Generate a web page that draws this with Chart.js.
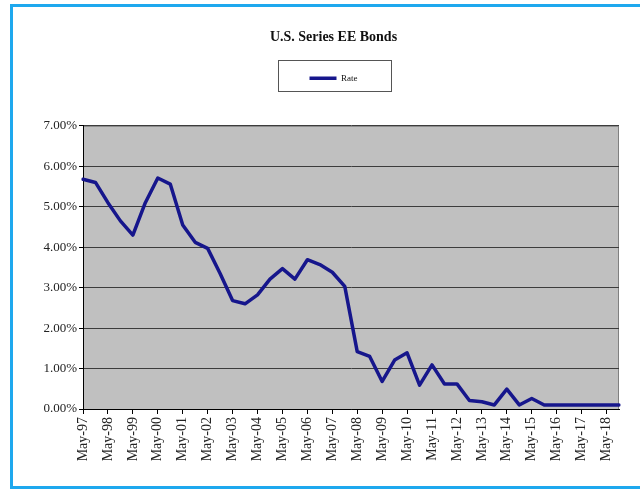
<!DOCTYPE html>
<html>
<head>
<meta charset="utf-8">
<title>U.S. Series EE Bonds</title>
<script src="https://cdn.jsdelivr.net/npm/chart.js@4.4.1/dist/chart.umd.min.js"></script>
<style>
  html, body { margin: 0; padding: 0; background: #fff; }
  #wrap { position: relative; width: 640px; height: 490px; overflow: hidden; }
  #frame {
    position: absolute; left: 10px; top: 4px; width: 700px; height: 485px;
    box-sizing: border-box;
    border: 3px solid #1ea8ee; border-right: none;
  }
  #rateChart { position: absolute; left: 0; top: 0; }
</style>
</head>
<body>
<div id="wrap">
  <div id="frame"></div>
  <canvas id="rateChart" width="640" height="490"></canvas>
</div>
<script>
// semiannual rate announcements, May-97 .. Nov-18
const periods = [
  'May-97', 'Nov-97', 'May-98', 'Nov-98', 'May-99', 'Nov-99',
  'May-00', 'Nov-00', 'May-01', 'Nov-01', 'May-02', 'Nov-02',
  'May-03', 'Nov-03', 'May-04', 'Nov-04', 'May-05', 'Nov-05',
  'May-06', 'Nov-06', 'May-07', 'Nov-07', 'May-08', 'Nov-08',
  'May-09', 'Nov-09', 'May-10', 'Nov-10', 'May-11', 'Nov-11',
  'May-12', 'Nov-12', 'May-13', 'Nov-13', 'May-14', 'Nov-14',
  'May-15', 'Nov-15', 'May-16', 'Nov-16', 'May-17', 'Nov-17',
  'May-18', 'Nov-18'
];

// rate in percent
const rate = [
  5.68, 5.60, 5.10, 4.65, 4.30, 5.10,
  5.71, 5.56, 4.55, 4.12, 3.97, 3.35,
  2.68, 2.60, 2.82, 3.21, 3.47, 3.21,
  3.69, 3.57, 3.38, 3.03, 1.42, 1.30,
  0.68, 1.21, 1.39, 0.59, 1.09, 0.62,
  0.62, 0.21, 0.18, 0.10, 0.49, 0.10,
  0.26, 0.10, 0.10, 0.10, 0.10, 0.10,
  0.10, 0.10
];

const seriesName = 'Rate';
const yTicks = [0, 1, 2, 3, 4, 5, 6, 7];

const serif = '"Liberation Serif", "Times New Roman", serif';
Chart.defaults.font.family = serif;

// gray plot area like the old Excel charts
const plotBackground = {
  id: 'plotBackground',
  beforeDraw(chart) {
    const { ctx, chartArea: a } = chart;
    ctx.save();
    ctx.fillStyle = '#c0c0c0';
    ctx.fillRect(a.left, a.top, a.right - a.left, a.bottom - a.top);
    ctx.strokeStyle = '#808080';
    ctx.lineWidth = 1;
    ctx.strokeRect(a.left + 0.5, a.top + 0.5, a.right - a.left - 1, a.bottom - a.top);
    ctx.restore();
  }
};

// title + legend sit a bit right of the canvas centre, with room under the legend and a box round it
const headerCentre = 333.5;
const legendBox = {
  id: 'legendBox',
  beforeLayout(chart) {
    const legend = chart.legend;
    if (!legend || legend._gapAdded) return;
    const fit = legend.fit;
    legend.fit = function () {
      fit.call(this);
      this.height += 33;
    };
    legend._gapAdded = true;
  },
  afterLayout(chart) {
    [chart.titleBlock, chart.legend].forEach(box => {
      if (!box) return;
      const dx = headerCentre - (box.left + box.right) / 2;
      box.left += dx;
      box.right += dx;
    });
  },
  afterDraw(chart) {
    const hb = chart.legend && chart.legend.legendHitBoxes[0];
    if (!hb) return;
    const ctx = chart.ctx;
    const cx = hb.left + hb.width / 2;
    ctx.save();
    ctx.strokeStyle = '#555';
    ctx.lineWidth = 1;
    ctx.strokeRect(Math.round(cx - 56) + 0.5, Math.round(hb.top - 14) + 0.5, 113, 31);
    ctx.restore();
  }
};

new Chart(document.getElementById('rateChart'), {
  type: 'line',
  data: {
    labels: periods,
    datasets: [{
      label: seriesName,
      data: rate,
      borderColor: '#16168c',
      backgroundColor: '#16168c',
      borderWidth: 3.5,
      borderJoinStyle: 'round',
      borderCapStyle: 'round',
      pointRadius: 0,
      tension: 0
    }]
  },
  options: {
    responsive: false,
    animation: false,
    layout: { padding: { top: 0, left: 0, right: 21, bottom: 0 } },
    plugins: {
      title: {
        display: true,
        text: 'U.S. Series EE Bonds',
        color: '#111',
        font: { size: 14, weight: 'bold' },
        padding: { top: 29, bottom: 18 }
      },
      legend: {
        display: true,
        labels: {
          usePointStyle: true,
          pointStyle: 'line',
          pointStyleWidth: 27,
          color: '#111',
          font: { size: 9 },
          padding: 10
        }
      },
      tooltip: { enabled: false }
    },
    scales: {
      x: {
        offset: false,
        afterFit(scale) { scale.height = 81; },
        grid: {
          drawOnChartArea: false,
          tickLength: 5,
          tickColor: (c) => (c.index % 2 ? 'rgba(0,0,0,0)' : '#000')
        },
        border: { color: '#000', width: 1 },
        ticks: {
          autoSkip: false,
          minRotation: 90,
          maxRotation: 90,
          padding: 3,
          color: '#222',
          font: { size: 14 },
          callback: function (value, index) {
            return index % 2 === 0 ? this.getLabelForValue(value) : '';
          }
        }
      },
      y: {
        min: yTicks[0],
        max: yTicks[yTicks.length - 1],
        afterFit(scale) { scale.width = 83; },
        afterBuildTicks(scale) { scale.ticks = yTicks.map(v => ({ value: v })); },
        grid: { color: '#3c3c3c', lineWidth: 1, tickLength: 4, tickColor: '#000' },
        border: { color: '#000', width: 1 },
        ticks: {
          padding: 2,
          color: '#222',
          font: { size: 13 },
          callback: (v) => v.toFixed(2) + '%'
        }
      }
    }
  },
  plugins: [plotBackground, legendBox]
});
</script>
</body>
</html>
